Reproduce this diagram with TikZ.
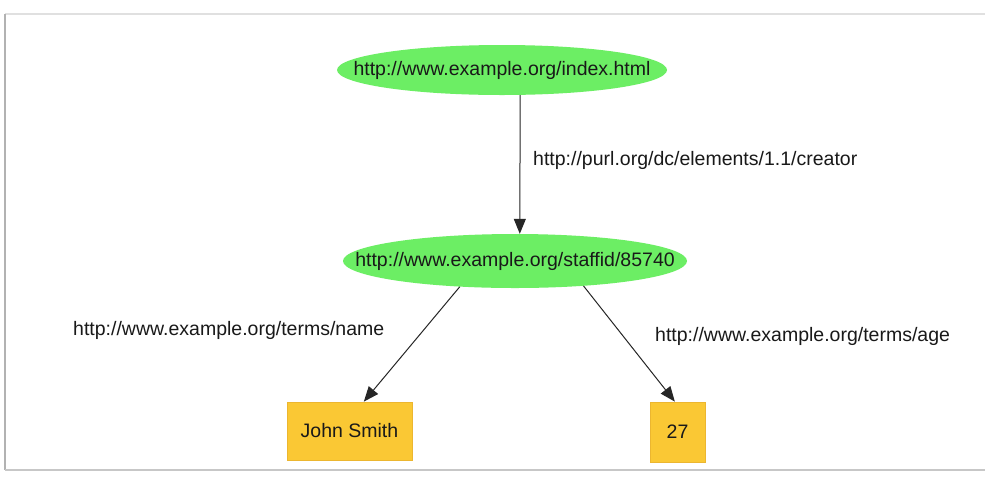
\documentclass[tikz,border=0pt]{standalone}
\usepackage{fontspec}
\setmainfont{Liberation Sans}
\usetikzlibrary{shapes.geometric,arrows.meta}
\definecolor{resgreen}{RGB}{108,238,100}
\definecolor{litorange}{RGB}{250,200,52}
\definecolor{litedge}{RGB}{236,182,48}
\definecolor{inkgray}{RGB}{25,25,25}
\tikzset{
  txt/.style={font=\fontsize{19.5}{23}\selectfont, text=inkgray},
  resource/.style={ellipse, fill=resgreen, inner sep=0pt, txt},
  literal/.style={rectangle, fill=litorange, draw=litedge, line width=0.8pt, inner sep=0pt, txt},
  prop/.style={txt, anchor=west, inner sep=0pt},
  link/.style={draw=black!85, line width=1pt, -{Triangle[length=15pt,width=12pt]}},
}
% label whose box does not widen the ellipse around it
\newcommand{\flatlabel}[1]{\makebox[0pt]{#1}}
\begin{document}
\begin{tikzpicture}[x=1pt,y=-1pt]
  % page and frame
  \useasboundingbox (0,0) rectangle (985,483);
  \fill[white] (0,0) rectangle (985,483);
  \draw[black!12, line width=1.2pt] (5,14) -- (985,14);
  \draw[black!30, line width=1.6pt] (5,14) -- (5,470);
  \draw[black!22, line width=1.4pt] (5,470) -- (985,470);

  % resources
  \node[resource, minimum width=330pt, minimum height=50pt] (page)  at (502,70)  {\flatlabel{http://www.example.org/index.html}};
  \node[resource, minimum width=344pt, minimum height=54pt] (staff) at (515,261) {\flatlabel{http://www.example.org/staffid/85740}};

  % literals
  \node[literal, minimum width=125pt, minimum height=58pt] (name) at (349.5,431) {John Smith};
  \node[literal, minimum width=55pt,  minimum height=60pt] (age)  at (677.5,432) {27};

  % property labels
  \node[prop] (creatorlbl) at (533,160) {http://purl.org/dc/elements/1.1/creator};
  \node[prop] (namelbl)    at (73,330)  {http://www.example.org/terms/name};
  \node[prop] (agelbl)     at (655,336) {http://www.example.org/terms/age};

  % statements
  \draw[link] (page.306) -- (staff.80);
  \draw[link] (staff.205) -- (name.64);
  \draw[link] (staff.340) -- (age.95);
\end{tikzpicture}
\end{document}
